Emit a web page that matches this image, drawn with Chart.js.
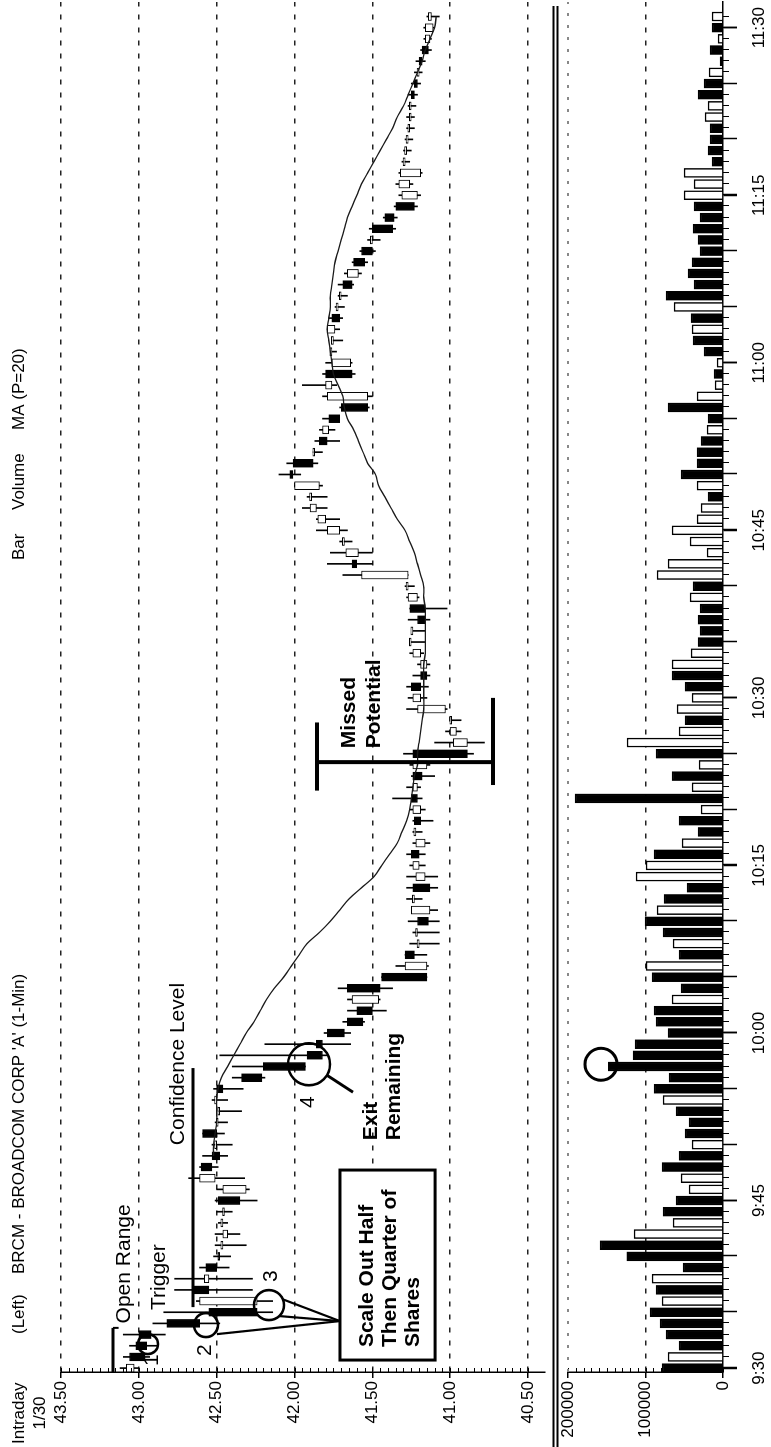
<!DOCTYPE html>
<html>
<head>
<meta charset="utf-8">
<script src="https://cdn.jsdelivr.net/npm/chart.js@4.4.1/dist/chart.umd.min.js"></script>
<style>
html, body { margin: 0; padding: 0; background: #fff; overflow: hidden; }
#frame { position: absolute; left: 0; top: 0; width: 1447px; height: 771px;
         transform-origin: 0 0; transform: translateY(1447px) rotate(-90deg); background: #fff; }
#priceBox { position: absolute; left: 0; top: 0; width: 1447px; height: 548px; }
#volBox { position: absolute; left: 0; top: 548px; width: 1447px; height: 223px; }
</style>
</head>
<body>
<div id="frame">
  <div id="priceBox"><canvas id="price" width="1447" height="548"></canvas></div>
  <div id="volBox"><canvas id="volume" width="1447" height="223"></canvas></div>
</div>
<script>
// BRCM 1-minute bars, 9:30 .. 11:31 (bar index = minutes after 9:30)
const opens = [
  43.03, 43.06, 43.02, 43.00, 42.82, 42.55, 42.24, 42.65, 42.55, 42.57,
  42.49, 42.46, 42.43, 42.46, 42.45, 42.49, 42.31, 42.51, 42.60, 42.53,
  42.50, 42.59, 42.49, 42.48, 42.50, 42.50, 42.34, 42.20, 41.92, 41.86,
  41.79, 41.66, 41.60, 41.46, 41.66, 41.44, 41.15, 41.29, 41.20, 41.21,
  41.21, 41.13, 41.23, 41.24, 41.16, 41.20, 41.25, 41.16, 41.22, 41.23,
  41.19, 41.25, 41.21, 41.24, 41.15, 41.24, 40.89, 40.96, 40.99, 41.03,
  41.19, 41.25, 41.19, 41.15, 41.19, 41.25, 41.24, 41.21, 41.26, 41.21,
  41.27, 41.27, 41.63, 41.59, 41.68, 41.71, 41.80, 41.86, 41.89, 41.84,
  42.03, 42.01, 41.87, 41.84, 41.78, 41.78, 41.70, 41.53, 41.76, 41.80,
  41.64, 41.76, 41.75, 41.74, 41.76, 41.72, 41.70, 41.69, 41.59, 41.62,
  41.57, 41.50, 41.50, 41.42, 41.35, 41.21, 41.26, 41.19, 41.29, 41.28,
  41.27, 41.26, 41.25, 41.25, 41.25, 41.23, 41.20, 41.20, 41.18, 41.13,
  41.11, 41.12
];
const highs = [
  43.12, 43.10, 43.06, 43.10, 42.91, 42.84, 42.63, 42.77, 42.77, 42.61,
  42.52, 42.51, 42.51, 42.49, 42.50, 42.51, 42.50, 42.68, 42.61, 42.59,
  42.53, 42.59, 42.51, 42.49, 42.53, 42.52, 42.40, 42.40, 42.48, 42.19,
  41.81, 41.69, 41.66, 41.66, 41.72, 41.44, 41.35, 41.29, 41.26, 41.24,
  41.27, 41.25, 41.28, 41.28, 41.28, 41.26, 41.28, 41.24, 41.24, 41.24,
  41.26, 41.37, 41.28, 41.25, 41.26, 41.30, 41.10, 41.03, 40.99, 41.28,
  41.27, 41.28, 41.24, 41.21, 41.26, 41.25, 41.24, 41.27, 41.26, 41.28,
  41.29, 41.69, 41.79, 41.77, 41.71, 41.86, 41.86, 41.95, 41.92, 42.00,
  42.10, 42.05, 41.88, 41.87, 41.84, 41.82, 41.71, 41.82, 41.95, 41.82,
  41.80, 41.76, 41.76, 41.79, 41.78, 41.74, 41.72, 41.72, 41.68, 41.63,
  41.58, 41.53, 41.52, 41.43, 41.36, 41.33, 41.35, 41.33, 41.31, 41.30,
  41.29, 41.28, 41.28, 41.27, 41.27, 41.25, 41.23, 41.22, 41.19, 41.17,
  41.17, 41.15
];
const lows = [
  43.00, 42.93, 42.88, 42.83, 42.48, 42.14, 42.14, 42.27, 42.27, 42.42,
  42.41, 42.31, 42.35, 42.43, 42.40, 42.24, 42.29, 42.32, 42.49, 42.43,
  42.40, 42.45, 42.43, 42.34, 42.43, 42.33, 42.19, 41.93, 41.79, 41.64,
  41.64, 41.55, 41.41, 41.45, 41.37, 41.15, 41.14, 41.15, 41.07, 41.07,
  41.07, 41.08, 41.18, 41.08, 41.08, 41.16, 41.16, 41.13, 41.18, 41.11,
  41.16, 41.18, 41.19, 41.10, 41.13, 40.85, 40.78, 40.93, 40.93, 41.02,
  41.15, 41.14, 41.13, 41.13, 41.17, 41.16, 41.16, 41.13, 41.02, 41.20,
  41.23, 41.27, 41.50, 41.50, 41.63, 41.66, 41.71, 41.79, 41.79, 41.82,
  41.96, 41.85, 41.82, 41.71, 41.74, 41.71, 41.52, 41.50, 41.73, 41.61,
  41.63, 41.73, 41.69, 41.71, 41.69, 41.68, 41.66, 41.62, 41.57, 41.53,
  41.48, 41.45, 41.35, 41.34, 41.21, 41.19, 41.24, 41.18, 41.26, 41.25,
  41.24, 41.23, 41.23, 41.22, 41.21, 41.19, 41.18, 41.16, 41.12, 41.12,
  41.10, 41.07
];
const closes = [
  43.08, 42.96, 42.95, 42.92, 42.61, 42.24, 42.61, 42.55, 42.58, 42.50,
  42.48, 42.46, 42.46, 42.46, 42.45, 42.35, 42.46, 42.61, 42.53, 42.48,
  42.50, 42.50, 42.49, 42.48, 42.50, 42.46, 42.21, 41.93, 41.82, 41.82,
  41.68, 41.56, 41.50, 41.63, 41.45, 41.15, 41.29, 41.23, 41.20, 41.21,
  41.14, 41.25, 41.23, 41.13, 41.22, 41.24, 41.20, 41.22, 41.22, 41.19,
  41.24, 41.21, 41.24, 41.18, 41.24, 40.89, 40.98, 41.00, 40.99, 41.21,
  41.24, 41.19, 41.15, 41.19, 41.24, 41.25, 41.24, 41.16, 41.16, 41.27,
  41.27, 41.57, 41.60, 41.67, 41.68, 41.79, 41.85, 41.90, 41.89, 42.00,
  42.01, 41.88, 41.87, 41.79, 41.82, 41.71, 41.53, 41.79, 41.80, 41.63,
  41.76, 41.76, 41.75, 41.79, 41.71, 41.72, 41.70, 41.63, 41.66, 41.55,
  41.50, 41.50, 41.37, 41.36, 41.23, 41.31, 41.33, 41.32, 41.29, 41.28,
  41.27, 41.26, 41.26, 41.26, 41.23, 41.21, 41.21, 41.18, 41.14, 41.16,
  41.16, 41.14
];
// MA (P=20) as drawn, first value at bar 19
const maValues = [
  null, null, null, null, null, null, null, null, null, null,
  null, null, null, null, null, null, null, null, null, 42.52,
  42.52, 42.51, 42.50, 42.50, 42.50, 42.49, 42.47, 42.43, 42.39, 42.35,
  42.31, 42.26, 42.22, 42.18, 42.13, 42.07, 42.02, 41.97, 41.92, 41.84,
  41.77, 41.71, 41.65, 41.57, 41.49, 41.44, 41.39, 41.34, 41.31, 41.28,
  41.26, 41.25, 41.24, 41.23, 41.21, 41.21, 41.20, 41.19, 41.18, 41.17,
  41.17, 41.17, 41.17, 41.17, 41.16, 41.16, 41.16, 41.16, 41.16, 41.17,
  41.17, 41.19, 41.21, 41.23, 41.26, 41.29, 41.34, 41.38, 41.42, 41.46,
  41.48, 41.53, 41.56, 41.59, 41.62, 41.66, 41.68, 41.69, 41.72, 41.75,
  41.76, 41.77, 41.78, 41.79, 41.78, 41.77, 41.77, 41.76, 41.75, 41.74,
  41.72, 41.70, 41.68, 41.66, 41.63, 41.60, 41.57, 41.53, 41.49, 41.45,
  41.41, 41.37, 41.34, 41.30, 41.27, 41.24, 41.21, 41.18, 41.16, 41.13,
  41.10, 41.09
];
const volumes = [
  78700, 71000, 56800, 73500, 81300, 94200, 78700, 86500, 91600, 51600,
  124000, 158700, 114800, 64500, 77400, 60600, 43900, 54200, 78700, 56800,
  40000, 49000, 43900, 60600, 77400, 89000, 69700, 148000, 116000, 113500,
  71000, 86500, 89000, 65800, 54200, 91600, 99400, 56800, 64500, 77400,
  100600, 85200, 76100, 46500, 112300, 99400, 89000, 52900, 32300, 56800,
  28400, 191000, 40000, 65800, 31000, 86500, 123900, 56800, 49000, 59400,
  40000, 49000, 65800, 65800, 41300, 32300, 29700, 32300, 29700, 42600,
  38700, 85200, 71000, 20600, 42600, 65800, 33500, 28400, 19400, 33500,
  54200, 33500, 33500, 28400, 20600, 19400, 71000, 33500, 10300, 11600,
  7700, 24500, 38700, 40000, 41300, 63200, 73500, 37400, 45200, 40000,
  29700, 32300, 38700, 29700, 37400, 50300, 37400, 50300, 14200, 19400,
  16800, 16800, 23200, 19400, 32300, 24500, 18100, 3900, 16800, 6500,
  14200, 14200
];
// 1 = solid (down) volume bar, 0 = hollow
const volumeDown = [
  1, 0, 1, 1, 1, 1, 0, 1, 0, 1,
  1, 1, 0, 0, 1, 1, 0, 0, 1, 1,
  0, 1, 1, 1, 0, 1, 1, 1, 1, 1,
  1, 1, 1, 0, 1, 1, 0, 1, 0, 1,
  1, 0, 1, 1, 0, 0, 1, 0, 1, 1,
  0, 1, 0, 1, 0, 1, 0, 0, 1, 0,
  0, 1, 1, 0, 0, 1, 1, 1, 1, 0,
  1, 0, 0, 0, 0, 0, 0, 0, 1, 0,
  1, 1, 1, 1, 0, 1, 1, 0, 0, 1,
  0, 1, 1, 0, 1, 0, 1, 1, 1, 1,
  1, 1, 1, 1, 1, 0, 0, 0, 1, 1,
  1, 1, 0, 0, 1, 1, 0, 1, 1, 0,
  1, 0
];

const priceTicks = [40.5, 41, 41.5, 42, 42.5, 43, 43.5];
const volumeTicks = [0, 100000, 200000];
const timeTickBars = [0, 15, 30, 45, 60, 75, 90, 105, 120];
const timeTickLabels = ['9:30', '9:45', '10:00', '10:15', '10:30', '10:45', '11:00', '11:15', '11:30'];

const FONT = "'Liberation Sans', Arial, sans-serif";
const X_MIN = -0.35, X_MAX = 122.3;
const PRICE_MIN = 40.391, PRICE_MAX = 43.5;
const VOL_MAX = 200000;

const barIdx = opens.map((_, i) => i);

function fixYAxis(s) { s.width = 75; s.paddingTop = 0; s.paddingBottom = 0; }

// ---------- price panel overlay ----------
const priceOverlay = {
  id: 'priceOverlay',
  afterDraw(chart) {
    const ctx = chart.ctx;
    const xs = chart.scales.x, ys = chart.scales.y;
    const X = i => xs.getPixelForValue(i);
    const Y = p => ys.getPixelForValue(p);
    const area = chart.chartArea;
    ctx.save();
    ctx.strokeStyle = '#000';
    ctx.fillStyle = '#000';

    // minor ticks along the price axis
    ctx.lineWidth = 1;
    for (let k = 0; k <= 60; k++) {
      const y = Math.round(Y(40.5 + k * 0.05)) + 0.5;
      ctx.beginPath(); ctx.moveTo(area.left, y); ctx.lineTo(area.left + 4, y); ctx.stroke();
    }

    const line = (i1, p1, i2, p2, w) => {
      ctx.lineWidth = w;
      ctx.beginPath(); ctx.moveTo(X(i1), Y(p1)); ctx.lineTo(X(i2), Y(p2)); ctx.stroke();
    };
    const circle = (i, p, r) => {
      ctx.lineWidth = 2.6;
      ctx.beginPath(); ctx.arc(X(i), Y(p), r, 0, Math.PI * 2); ctx.stroke();
    };
    const text = (s, i, p, font, align, base) => {
      ctx.font = font;
      ctx.textAlign = align || 'left';
      ctx.textBaseline = base || 'alphabetic';
      ctx.fillText(s, X(i), Y(p));
    };
    const reg = '21px ' + FONT, bold = 'bold 21px ' + FONT;

    // open range
    line(-0.4, 43.166, 3.6, 43.166, 3);
    line(3.6, 43.166, 3.6, 43.13, 2);
    text('Open Range', 4.0, 43.054, reg);
    text('Trigger', 5.2, 42.832, reg);

    // confidence level
    line(5.46, 42.652, 26.86, 42.652, 3);
    text('Confidence Level', 19.96, 42.71, reg);

    // circles and numbers
    circle(2.15, 42.941, 10);
    circle(3.85, 42.569, 12);
    circle(5.64, 42.164, 15);
    circle(27.2, 41.907, 21);
    text('1', 0.72, 42.915, reg, 'center', 'middle');
    text('2', 1.61, 42.575, reg, 'center', 'middle');
    text('3', 8.24, 42.151, reg, 'center', 'middle');
    text('4', 23.8, 41.913, reg, 'center', 'middle');

    // scale-out box
    const bx1 = X(0.72), bx2 = X(17.73), by1 = Y(41.708), by2 = Y(41.097);
    ctx.fillStyle = '#fff';
    ctx.fillRect(bx1, by1, bx2 - bx1, by2 - by1);
    ctx.fillStyle = '#000';
    ctx.lineWidth = 3;
    ctx.strokeRect(bx1, by1, bx2 - bx1, by2 - by1);
    line(4.21, 41.708, 3.04, 42.498, 2.2);
    line(4.21, 41.708, 6.18, 42.08, 2.2);
    line(4.21, 41.708, 4.66, 42.10, 2.2);
    text('Scale Out Half', 1.88, 41.496, bold);
    text('Then Quarter of', 1.88, 41.348, bold);
    text('Shares', 1.88, 41.20, bold);

    // exit remaining
    line(26.2, 41.79, 24.7, 41.624, 3);
    text('Exit', 20.4, 41.47, bold);
    text('Remaining', 20.4, 41.322, bold);

    // missed potential
    line(54.25, 41.856, 54.25, 40.725, 4);
    line(51.7, 41.856, 57.8, 41.856, 4);
    line(52.2, 40.725, 60.0, 40.725, 4);
    text('Missed', 55.5, 41.61, bold);
    text('Potential', 55.5, 41.45, bold);

    // header
    ctx.font = '17px ' + FONT;
    ctx.textAlign = 'left';
    ctx.textBaseline = 'alphabetic';
    ctx.fillText('Intraday', 3, 24);
    ctx.fillText('(Left)', 113, 24);
    ctx.fillText("BRCM - BROADCOM CORP 'A' (1-Min)", 173, 24);
    ctx.fillText('Bar', 887, 24);
    ctx.fillText('Volume', 937, 24);
    ctx.fillText('MA (P=20)', 1017, 24);
    ctx.textAlign = 'center';
    ctx.fillText('1/30', 34, 45);
    ctx.restore();
  }
};

// ---------- volume panel overlay ----------
const volumeOverlay = {
  id: 'volumeOverlay',
  afterDraw(chart) {
    const ctx = chart.ctx;
    const xs = chart.scales.x, ys = chart.scales.y;
    const area = chart.chartArea;
    ctx.save();
    ctx.strokeStyle = '#000';
    ctx.lineWidth = 1;
    // minor ticks on volume axis
    for (let k = 0; k <= 20; k++) {
      const y = Math.round(ys.getPixelForValue(k * 10000)) + 0.5;
      ctx.beginPath(); ctx.moveTo(area.left, y); ctx.lineTo(area.left + 4, y); ctx.stroke();
    }
    // time ticks
    for (const i of barIdx) {
      const x = Math.round(xs.getPixelForValue(i)) + 0.5;
      const len = i % 5 === 0 ? 14 : 6;
      ctx.lineWidth = i % 5 === 0 ? 1.5 : 1;
      ctx.beginPath(); ctx.moveTo(x, area.bottom); ctx.lineTo(x, area.bottom + len); ctx.stroke();
    }
    // 200000 dotted line
    ctx.strokeStyle = '#888';
    ctx.lineWidth = 2;
    ctx.setLineDash([3, 9]);
    const y200 = ys.getPixelForValue(200000);
    ctx.beginPath(); ctx.moveTo(area.left, y200); ctx.lineTo(area.right, y200); ctx.stroke();
    ctx.setLineDash([]);
    // panel separator double line
    ctx.strokeStyle = '#000';
    ctx.lineWidth = 1.8;
    [5.5, 9.5].forEach(y => { ctx.beginPath(); ctx.moveTo(0, y); ctx.lineTo(1441, y); ctx.stroke(); });
    // circle on the spike
    ctx.lineWidth = 3;
    ctx.beginPath();
    ctx.arc(xs.getPixelForValue(27.2), ys.getPixelForValue(157400), 16, 0, Math.PI * 2);
    ctx.stroke();
    ctx.restore();
  }
};

Chart.defaults.font.family = FONT;
Chart.defaults.color = '#000';

new Chart(document.getElementById('price'), {
  type: 'bar',
  data: {
    datasets: [
      {
        type: 'line',
        data: barIdx.map(i => ({ x: i, y: maValues[i] })),
        borderColor: '#1a1a1a',
        borderWidth: 1.3,
        pointRadius: 0,
        tension: 0.35,
        fill: false,
        order: 0
      },
      {
        data: barIdx.map(i => ({ x: i, y: [opens[i], closes[i]] })),
        backgroundColor: barIdx.map(i => closes[i] < opens[i] ? '#000' : '#fff'),
        borderColor: '#000',
        borderWidth: 1,
        borderSkipped: false,
        barThickness: 8,
        minBarLength: 2,
        grouped: false,
        order: 1
      },
      {
        data: barIdx.map(i => ({ x: i, y: [lows[i], highs[i]] })),
        backgroundColor: '#000',
        borderWidth: 0,
        barThickness: 1,
        grouped: false,
        order: 2
      }
    ]
  },
  options: {
    responsive: false,
    maintainAspectRatio: false,
    animation: false,
    devicePixelRatio: 1,
    events: [],
    layout: { autoPadding: false, padding: { top: 61, bottom: 3, left: 0, right: 2 } },
    plugins: { legend: { display: false }, tooltip: { enabled: false } },
    scales: {
      x: { type: 'linear', min: X_MIN, max: X_MAX, offset: false, display: false, grid: { offset: false } },
      y: {
        type: 'linear',
        position: 'left',
        min: PRICE_MIN,
        max: PRICE_MAX,
        afterBuildTicks: s => { s.ticks = priceTicks.map(v => ({ value: v })); },
        afterFit: fixYAxis,
        ticks: { font: { size: 17 }, color: '#000', padding: 3, callback: v => Number(v).toFixed(2) },
        grid: { color: '#222', lineWidth: 1.5, tickLength: 6, tickColor: '#000', tickWidth: 1.5 },
        border: { display: true, color: '#000', width: 1.5, dash: [5, 8] }
      }
    }
  },
  plugins: [priceOverlay]
});

new Chart(document.getElementById('volume'), {
  type: 'bar',
  data: {
    datasets: [{
      data: barIdx.map(i => ({ x: i, y: volumes[i] })),
      backgroundColor: barIdx.map(i => volumeDown[i] ? '#000' : '#fff'),
      borderColor: '#000',
      borderWidth: 1.5,
      barThickness: 9,
      grouped: false
    }]
  },
  options: {
    responsive: false,
    maintainAspectRatio: false,
    animation: false,
    devicePixelRatio: 1,
    events: [],
    layout: { autoPadding: false, padding: { top: 20, bottom: 0, left: 0, right: 2 } },
    plugins: { legend: { display: false }, tooltip: { enabled: false } },
    scales: {
      x: {
        type: 'linear',
        position: 'bottom',
        min: X_MIN,
        max: X_MAX,
        offset: false,
        afterBuildTicks: s => { s.ticks = timeTickBars.map(v => ({ value: v })); },
        afterFit: s => { s.height = 48; s.paddingLeft = 0; s.paddingRight = 0; },
        ticks: {
          font: { size: 17 }, color: '#000', padding: 12, autoSkip: false, maxRotation: 0,
          callback: v => timeTickLabels[timeTickBars.indexOf(v)]
        },
        grid: { drawOnChartArea: false, offset: false, tickLength: 14, tickColor: '#000', tickWidth: 1.5 },
        border: { display: true, color: '#000', width: 1.5 }
      },
      y: {
        type: 'linear',
        position: 'left',
        min: 0,
        max: VOL_MAX,
        afterBuildTicks: s => { s.ticks = volumeTicks.map(v => ({ value: v })); },
        afterFit: fixYAxis,
        ticks: { font: { size: 17 }, color: '#000', padding: 3, callback: v => String(v) },
        grid: {
          color: c => (c.tick && c.tick.value === 100000) ? '#222' : 'rgba(0,0,0,0)',
          lineWidth: 1.5, tickLength: 6, tickColor: '#000', tickWidth: 1.5
        },
        border: { display: true, color: '#000', width: 1.5, dash: [5, 8] }
      }
    }
  },
  plugins: [volumeOverlay]
});
</script>
</body>
</html>
